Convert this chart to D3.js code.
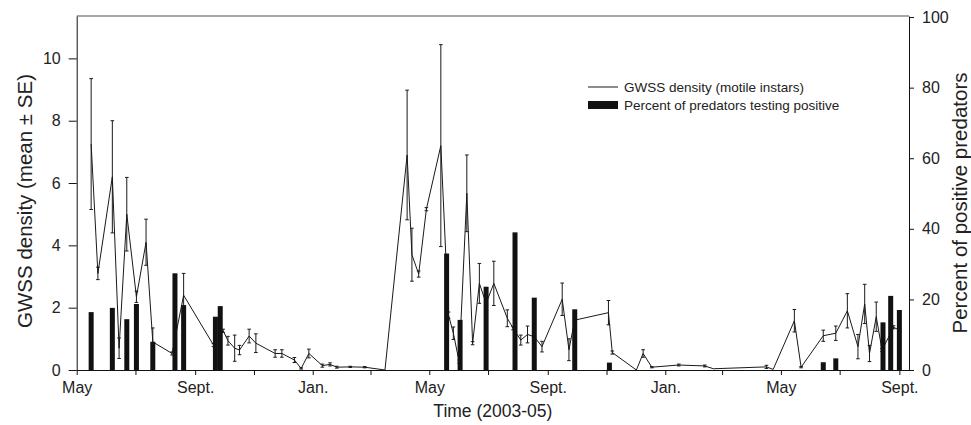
<!DOCTYPE html>
<html>
<head>
<meta charset="utf-8">
<script src="https://cdn.jsdelivr.net/npm/d3@7"></script>
<style>
  body { margin: 0; background: #fff; }
  svg text { font-family: "Liberation Sans", Arial, Helvetica, sans-serif; fill: #222; }
</style>
</head>
<body>
<div id="chart"></div>
<script>
// GWSS density samples (motile instars), mean and SE
const densityDates = [
  '2003-05-16','2003-05-23','2003-06-07','2003-06-14','2003-06-22','2003-07-02','2003-07-12','2003-07-19',
  '2003-08-08','2003-08-20','2003-09-20','2003-09-30','2003-10-05','2003-10-12','2003-10-17','2003-10-27',
  '2003-11-03','2003-11-23','2003-11-30','2003-12-13','2003-12-20','2003-12-28','2004-01-11','2004-01-19',
  '2004-01-26','2004-02-09','2004-02-24','2004-03-16','2004-04-08','2004-04-13','2004-04-20','2004-04-28',
  '2004-05-13','2004-05-21','2004-05-26','2004-06-01','2004-06-09','2004-06-15','2004-06-22','2004-06-29',
  '2004-07-07','2004-07-21','2004-07-27','2004-08-04','2004-08-11','2004-08-18','2004-08-26','2004-09-16',
  '2004-09-23','2004-09-29','2004-11-03','2004-11-07','2004-12-02','2004-12-09','2004-12-18','2005-01-15',
  '2005-02-11','2005-02-20','2005-04-16','2005-04-23','2005-05-15','2005-05-22','2005-06-14','2005-06-27',
  '2005-07-09','2005-07-20','2005-07-27','2005-08-01','2005-08-08','2005-08-14','2005-08-26','2005-09-01'
]
const densityMean = [
  7.25, 3.1, 6.2, 0.7, 5.0, 2.35, 4.1, 0.9,
  0.53, 2.4, 0.8, 1.26, 0.94, 0.7, 0.64, 1.09,
  0.86, 0.53, 0.53, 0.32, 0.05, 0.53, 0.14, 0.18,
  0.09, 0.1, 0.09, 0, 6.9, 3.7, 3.08, 5.16,
  7.2, 1.76, 1.18, 0.27, 5.67, 0.86, 2.78, 2.14,
  2.78, 1.66, 1.34, 0.96, 1.14, 1.07, 0.75, 2.27,
  0.65, 1.6, 1.84, 0.56, 0, 0.53, 0.09, 0.16,
  0.13, 0.04, 0.1, 0.02, 1.58, 0.09, 1.1, 1.18,
  1.9, 0.75, 2.12, 0.53, 1.71, 0.64, 1.37, 1.28
]
const densitySE = [
  2.1, 0.2, 1.8, 0.33, 1.18, 0.18, 0.74, 0.45,
  0.05, 0.7, 0.05, 0.05, 0.14, 0.42, 0.15, 0.22,
  0.3, 0.12, 0.12, 0.08, 0.02, 0.14, 0.05, 0.05,
  0.03, 0.02, 0.02, 0, 2.08, 0.85, 0.1, 0.05,
  3.24, 0.1, 0.2, 0.05, 1.23, 0.05, 0.64, 0.1,
  0.71, 0.27, 0.05, 0.16, 0.27, 0.05, 0.17, 0.52,
  0.35, 0.05, 0.39, 0.05, 0, 0.12, 0.02, 0.03,
  0.03, 0, 0.05, 0, 0.36, 0.02, 0.18, 0.23,
  0.55, 0.39, 0.63, 0.26, 0.47, 0.05, 0.05, 0.05
]

// percent of predators testing positive
const predatorDates = [
  '2003-05-16','2003-06-07','2003-06-22','2003-07-02','2003-07-19','2003-08-11','2003-08-20','2003-09-22',
  '2003-09-27','2004-05-19','2004-06-02','2004-06-29','2004-07-29','2004-08-18','2004-09-29','2004-11-04',
  '2005-06-14','2005-06-27','2005-08-15','2005-08-23','2005-09-01'
]
const predatorPct = [
  16.4, 17.6, 14.4, 18.7, 8.0, 27.4, 18.4, 15.1,
  18.1, 33.0, 14.2, 23.6, 39.0, 20.5, 17.2, 2.1,
  2.2, 3.3, 13.5, 21.0, 17.0
]

const leftTicks = [0, 2, 4, 6, 8, 10]
const rightTicks = [0, 20, 40, 60, 80, 100]
const monthLabels = { 4: 'May', 8: 'Sept.', 0: 'Jan.' }
const legendLabels = ['GWSS density (motile instars)', 'Percent of predators testing positive']

if (densityDates.length !== densityMean.length || densityMean.length !== densitySE.length) {
  throw new Error('density arrays differ in length')
}

const W = 971, H = 425
const plot = { left: 76.7, right: 909, top: 16, bottom: 370 }
const parse = d3.timeParse('%Y-%m-%d')

const density = densityDates.map((d, i) => ({ date: parse(d), mean: densityMean[i], se: densitySE[i] }))
const predators = predatorDates.map((d, i) => ({ date: parse(d), pct: predatorPct[i] }))

const x = d3.scaleTime()
  .domain([new Date(2003, 4, 1), new Date(2005, 8, 11)])
  .range([plot.left, plot.right])
const yL = d3.scaleLinear().domain([0, 11.36]).range([plot.bottom, plot.top])
const yR = d3.scaleLinear().domain([0, 100.3]).range([plot.bottom, plot.top])

const svg = d3.select('#chart').append('svg').attr('width', W).attr('height', H)

// top frame line (grey)
svg.append('line')
  .attr('x1', plot.left).attr('x2', plot.right)
  .attr('y1', plot.top).attr('y2', plot.top)
  .attr('stroke', '#8a8a8a').attr('stroke-width', 1.5)

// density line
svg.append('path')
  .datum(density)
  .attr('fill', 'none')
  .attr('stroke', '#1a1a1a')
  .attr('stroke-width', 1)
  .attr('d', d3.line().x(d => x(d.date)).y(d => yL(d.mean)))

// error bars
const cap = 1.8
svg.append('g')
  .attr('stroke', '#1a1a1a')
  .attr('stroke-width', 1)
  .attr('fill', 'none')
  .selectAll('path')
  .data(density.filter(d => d.se > 0))
  .join('path')
  .attr('d', d => {
    const cx = x(d.date), lo = yL(Math.max(0, d.mean - d.se)), hi = yL(d.mean + d.se)
    return `M${cx},${lo}V${hi}M${cx - cap},${hi}H${cx + cap}M${cx - cap},${lo}H${cx + cap}`
  })

// predator bars (drawn over the line)
const barW = 5
svg.append('g')
  .selectAll('rect')
  .data(predators)
  .join('rect')
  .attr('x', d => x(d.date) - barW / 2)
  .attr('y', d => yR(d.pct))
  .attr('width', barW)
  .attr('height', d => yR(0) - yR(d.pct))
  .attr('fill', '#111')

// axes
function styleAxis(g) {
  g.attr('font-family', null).attr('font-size', null)
  g.selectAll('text').style('font-size', '16px')
  g.selectAll('line, path').attr('stroke', '#111')
}

svg.append('g')
  .attr('transform', `translate(0,${plot.bottom})`)
  .call(d3.axisBottom(x)
    .ticks(d3.timeMonth.every(2))
    .tickSize(5).tickSizeOuter(0).tickPadding(7)
    .tickFormat(d => monthLabels[d.getMonth()] || ''))
  .call(styleAxis)

svg.append('g')
  .attr('transform', `translate(${plot.left},0)`)
  .call(d3.axisLeft(yL).tickValues(leftTicks).tickSize(8).tickSizeOuter(0).tickPadding(8))
  .call(styleAxis)

svg.append('g')
  .attr('transform', `translate(${plot.right},0)`)
  .call(d3.axisRight(yR).tickValues(rightTicks).tickSize(5).tickSizeOuter(0).tickPadding(8))
  .call(styleAxis)

// axis titles
svg.append('text')
  .attr('transform', `translate(${(plot.left + plot.right) / 2},417)`)
  .style('text-anchor', 'middle').style('font-size', '17.5px')
  .text('Time (2003-05)')

svg.append('text')
  .attr('transform', `translate(32,201) rotate(-90)`)
  .style('text-anchor', 'middle').style('font-size', '20.5px')
  .text('GWSS density (mean \u00b1 SE)')

svg.append('text')
  .attr('transform', `translate(967,203) rotate(-90)`)
  .style('text-anchor', 'middle').style('font-size', '20.5px')
  .text('Percent of positive predators')

// legend
const lg = svg.append('g').attr('transform', 'translate(588,0)')
lg.append('line')
  .attr('x1', 0).attr('x2', 30).attr('y1', 87).attr('y2', 87)
  .attr('stroke', '#1a1a1a').attr('stroke-width', 1)
lg.append('rect')
  .attr('x', 0).attr('y', 101).attr('width', 30).attr('height', 8)
  .attr('fill', '#111')
lg.selectAll('text.leg')
  .data(legendLabels)
  .join('text')
  .attr('class', 'leg')
  .attr('x', 36)
  .attr('y', (d, i) => 92 + i * 18)
  .style('font-size', '13.5px')
  .text(d => d)
</script>
</body>
</html>
